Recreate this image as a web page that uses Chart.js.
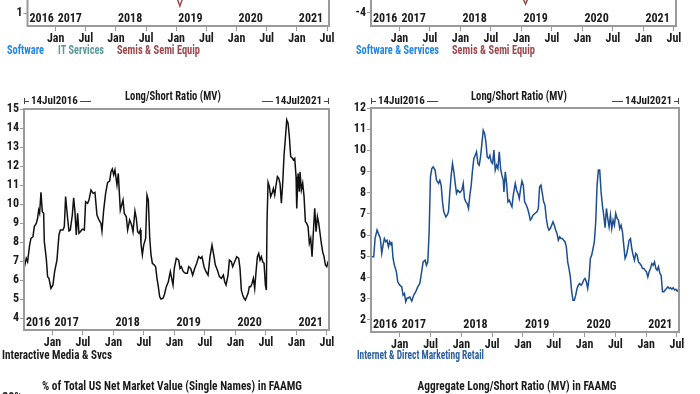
<!DOCTYPE html>
<html>
<head>
<meta charset="utf-8">
<script src="https://cdn.jsdelivr.net/npm/chart.js@4.4.1/dist/chart.umd.min.js"></script>
<style>
  html, body { margin: 0; padding: 0; background: #fff; }
  #page { position: relative; width: 700px; height: 394px; overflow: hidden; background: #fff; }
  #page canvas { position: absolute; }
</style>
</head>
<body>
<div id="page">
  <canvas id="topLeft"  width="350" height="215" style="left:0;top:-150px"></canvas>
  <canvas id="topRight" width="350" height="215" style="left:350px;top:-150px"></canvas>
  <canvas id="midLeft"  width="350" height="290" style="left:0;top:88px"></canvas>
  <canvas id="midRight" width="350" height="290" style="left:350px;top:88px"></canvas>
  <canvas id="botLeft"  width="350" height="150" style="left:0;top:380px"></canvas>
  <canvas id="botRight" width="350" height="150" style="left:350px;top:380px"></canvas>
</div>
<script>
// ---------- look ----------
const FONT  = "'Roboto Condensed', 'Liberation Sans Narrow', 'Arial Narrow', 'DejaVu Sans Condensed', sans-serif";
const INK   = '#1b1b1b';
const FRAME = '#9a9a9a';

// ---------- data (dates as decimal years) ----------
const rangeStart = 2016.533;   // 14Jul2016
const rangeEnd   = 2021.533;   // 14Jul2021
const yearLabels    = [2016, 2017, 2018, 2019, 2020, 2021];
const halfYearTicks = [2017, 2017.5, 2018, 2018.5, 2019, 2019.5, 2020, 2020.5, 2021, 2021.5];

// Interactive Media & Svcs - Long/Short Ratio (MV)
const imsDates = [
  2016.535, 2016.570, 2016.592, 2016.625, 2016.647, 2016.680, 2016.702, 2016.734, 2016.756, 2016.773,
  2016.789, 2016.811, 2016.833, 2016.855, 2016.866, 2016.898, 2016.920, 2016.942, 2016.975, 2017.008,
  2017.035, 2017.073, 2017.106, 2017.128, 2017.172, 2017.194, 2017.215, 2017.248, 2017.270, 2017.292,
  2017.325, 2017.347, 2017.368, 2017.390, 2017.412, 2017.434, 2017.456, 2017.489, 2017.522, 2017.543,
  2017.576, 2017.598, 2017.631, 2017.664, 2017.696, 2017.729, 2017.762, 2017.795, 2017.811, 2017.839,
  2017.871, 2017.904, 2017.937, 2017.959, 2017.981, 2018.003, 2018.024, 2018.057, 2018.079, 2018.095,
  2018.112, 2018.134, 2018.156, 2018.177, 2018.210, 2018.232, 2018.265, 2018.298, 2018.320, 2018.352,
  2018.374, 2018.396, 2018.418, 2018.440, 2018.451, 2018.473, 2018.495, 2018.527, 2018.549, 2018.571,
  2018.593, 2018.615, 2018.637, 2018.669, 2018.691, 2018.713, 2018.735, 2018.757, 2018.779, 2018.812,
  2018.833, 2018.866, 2018.899, 2018.932, 2018.954, 2018.976, 2018.997, 2019.030,
  2019.069, 2019.091, 2019.112, 2019.145, 2019.178, 2019.211, 2019.233, 2019.265, 2019.298, 2019.331,
  2019.364, 2019.397, 2019.429, 2019.451, 2019.484, 2019.517, 2019.550, 2019.582, 2019.615, 2019.648,
  2019.670, 2019.703, 2019.736, 2019.768, 2019.801, 2019.823, 2019.845, 2019.878, 2019.900, 2019.932,
  2019.954, 2019.987, 2020.020, 2020.053, 2020.074, 2020.096, 2020.118, 2020.140, 2020.162, 2020.184,
  2020.206, 2020.227, 2020.249, 2020.271, 2020.293, 2020.315, 2020.337, 2020.359, 2020.381, 2020.402,
  2020.424, 2020.446, 2020.468, 2020.490, 2020.506, 2020.517, 2020.534, 2020.556, 2020.577, 2020.599,
  2020.621, 2020.643, 2020.665, 2020.687, 2020.709, 2020.730, 2020.752, 2020.774, 2020.796, 2020.818,
  2020.840, 2020.862, 2020.883, 2020.905, 2020.927, 2020.949, 2020.971, 2020.993, 2021.004, 2021.026,
  2021.047, 2021.058, 2021.080, 2021.102, 2021.124, 2021.146, 2021.168, 2021.190, 2021.211, 2021.233,
  2021.255, 2021.277, 2021.299, 2021.321, 2021.343, 2021.365, 2021.386, 2021.408, 2021.430, 2021.452,
  2021.474, 2021.496, 2021.518, 2021.532
];
const imsRatio = [
  6.61, 7.14, 6.96, 7.84, 8.19, 8.28, 8.81, 8.98, 9.25, 9.68,
  9.51, 10.61, 9.60, 9.51, 8.02, 7.14, 6.18, 6.09, 5.56, 5.74,
  6.44, 7.05, 8.37, 8.63, 8.63, 8.81, 10.39, 9.25, 8.58, 8.63,
  9.42, 10.33, 9.60, 8.37, 9.51, 8.46, 8.54, 8.68, 8.63, 10.12,
  10.04, 10.21, 10.74, 10.56, 10.61, 9.42, 9.16, 8.98, 8.58, 9.68,
  10.56, 11.14, 11.21, 11.70, 11.84, 11.53, 11.79, 11.00, 11.61, 10.65,
  9.68, 9.95, 10.21, 9.51, 9.33, 8.63, 9.16, 8.89, 8.54, 9.63,
  9.25, 8.54, 8.46, 8.63, 7.91, 7.32, 7.84, 8.19, 10.47, 10.21,
  8.28, 7.32, 6.88, 6.79, 6.70, 6.09, 5.65, 5.12, 5.00, 5.04,
  5.21, 5.65, 5.91, 6.44, 6.09, 5.74, 6.61, 7.14,
  7.05, 6.61, 6.70, 6.44, 6.35, 6.35, 6.70, 6.61, 6.26, 6.61,
  6.88, 7.23, 7.14, 7.23, 6.70, 6.44, 6.26, 7.23, 7.84, 7.23,
  6.79, 6.53, 6.18, 6.09, 6.26, 5.91, 5.74, 6.26, 7.05, 6.96,
  6.70, 6.96, 7.23, 7.14, 6.61, 5.47, 5.21, 5.04, 4.95, 5.12,
  5.30, 5.65, 5.65, 5.82, 6.09, 5.56, 6.44, 7.23, 7.40, 7.05,
  7.23, 6.96, 6.88, 5.74, 5.47, 9.07, 11.14, 10.91, 10.39, 10.56,
  10.82, 10.47, 11.00, 11.44, 11.35, 11.09, 10.04, 11.09, 12.58, 13.46,
  14.42, 14.25, 13.54, 12.49, 12.44, 12.32, 12.40, 11.44, 9.77, 11.61,
  10.65, 11.70, 10.74, 11.09, 10.39, 9.07, 8.98, 8.81, 7.93, 8.19,
  7.23, 8.54, 9.77, 8.54, 9.33, 8.98, 8.46, 7.91, 7.47, 7.23,
  6.79, 6.70, 6.96, 7.05
];

// Internet & Direct Marketing Retail - Long/Short Ratio (MV)
const idmrDates = [
  2016.535, 2016.577, 2016.599, 2016.631, 2016.664, 2016.685, 2016.707, 2016.729, 2016.750, 2016.772,
  2016.794, 2016.816, 2016.837, 2016.859, 2016.870, 2016.891, 2016.913, 2016.946, 2016.967, 2017.000,
  2017.032, 2017.054, 2017.076, 2017.097, 2017.119, 2017.141, 2017.162, 2017.195, 2017.227, 2017.260,
  2017.292, 2017.325, 2017.347, 2017.379, 2017.412, 2017.433, 2017.455, 2017.477, 2017.498, 2017.520,
  2017.542, 2017.574, 2017.596, 2017.629, 2017.650, 2017.672, 2017.694, 2017.715, 2017.748, 2017.769,
  2017.791, 2017.813, 2017.835, 2017.856, 2017.878, 2017.900, 2017.921, 2017.943, 2017.976, 2018.008,
  2018.030, 2018.051, 2018.073, 2018.095, 2018.116, 2018.138, 2018.160, 2018.181, 2018.203, 2018.225,
  2018.246, 2018.268, 2018.290, 2018.311, 2018.333, 2018.355, 2018.377, 2018.398, 2018.420, 2018.442,
  2018.463, 2018.485, 2018.507, 2018.528, 2018.550, 2018.572, 2018.593, 2018.615, 2018.637, 2018.658,
  2018.680, 2018.691, 2018.713, 2018.734, 2018.756, 2018.778, 2018.799, 2018.821, 2018.843, 2018.875,
  2018.897, 2018.919, 2018.940, 2018.962, 2018.984, 2019.005, 2019.027,
  2019.054, 2019.075, 2019.097, 2019.119, 2019.140, 2019.162, 2019.195, 2019.227, 2019.249, 2019.270,
  2019.292, 2019.314, 2019.336, 2019.357, 2019.379, 2019.401, 2019.422, 2019.444, 2019.466, 2019.487,
  2019.509, 2019.531, 2019.552, 2019.574, 2019.596, 2019.617, 2019.639, 2019.661, 2019.682, 2019.704,
  2019.726, 2019.747, 2019.769, 2019.791, 2019.812, 2019.834, 2019.856, 2019.878, 2019.899, 2019.921,
  2019.943, 2019.964, 2019.986, 2020.008, 2020.029, 2020.051, 2020.073, 2020.094, 2020.116, 2020.138,
  2020.159, 2020.181, 2020.203, 2020.224, 2020.246, 2020.268, 2020.289, 2020.311, 2020.333, 2020.355,
  2020.376, 2020.398, 2020.420, 2020.441, 2020.463, 2020.485, 2020.506, 2020.528, 2020.550, 2020.571,
  2020.593, 2020.615, 2020.636, 2020.658, 2020.680, 2020.701, 2020.723, 2020.745, 2020.766, 2020.788,
  2020.810, 2020.831, 2020.853, 2020.875, 2020.897, 2020.918, 2020.940, 2020.962, 2020.983, 2021.005,
  2021.027, 2021.048, 2021.070, 2021.092, 2021.113, 2021.135, 2021.157, 2021.178, 2021.200, 2021.222,
  2021.243, 2021.265, 2021.287, 2021.309, 2021.330, 2021.352, 2021.374, 2021.395, 2021.417, 2021.439,
  2021.461, 2021.482, 2021.504, 2021.532
];
const idmrRatio = [
  4.98, 4.98, 5.84, 6.24, 6.00, 5.84, 5.14, 5.53, 5.84, 5.69,
  5.76, 5.45, 5.69, 5.53, 5.69, 4.90, 4.58, 4.27, 3.80, 3.64,
  3.56, 3.17, 3.25, 2.86, 3.04, 3.04, 3.09, 2.89, 3.17, 3.33,
  3.56, 3.72, 4.11, 4.74, 4.82, 4.58, 4.74, 6.16, 8.75, 9.14,
  9.22, 9.07, 8.59, 8.44, 8.59, 8.36, 7.57, 7.10, 6.86, 6.94,
  7.10, 8.04, 8.83, 9.38, 8.99, 8.44, 7.97, 8.12, 8.01, 8.12,
  8.44, 7.73, 7.57, 7.49, 7.26, 7.89, 8.36, 9.07, 9.62, 9.77,
  9.93, 9.38, 9.30, 9.69, 10.32, 10.95, 10.80, 10.40, 9.69, 9.62,
  9.77, 9.46, 9.38, 10.01, 9.07, 9.30, 9.14, 9.93, 9.14, 8.83,
  8.59, 8.04, 8.99, 8.44, 7.57, 7.65, 7.49, 7.34, 7.89, 8.44,
  8.12, 7.97, 7.73, 8.20, 8.55, 8.36, 7.57,
  7.42, 7.26, 7.02, 6.71, 6.79, 6.94, 7.02, 7.10, 7.26, 8.28,
  8.36, 7.97, 7.57, 7.42, 6.79, 6.39, 6.24, 6.31, 6.47, 6.63,
  6.47, 6.24, 6.08, 5.76, 5.92, 5.84, 5.84, 5.76, 5.69, 5.45,
  4.74, 4.43, 4.03, 3.33, 2.93, 2.93, 3.17, 3.48, 3.64, 3.72,
  3.64, 3.72, 3.88, 3.96, 3.80, 3.48, 3.96, 4.90, 5.06, 5.37,
  5.69, 6.63, 8.36, 9.07, 9.07, 8.04, 7.42, 6.94, 6.35, 7.26,
  6.79, 6.39, 6.94, 6.31, 6.71, 6.47, 7.02, 6.79, 6.71, 6.31,
  6.47, 6.16, 5.53, 4.90, 5.06, 5.37, 5.76, 5.84, 5.37, 5.06,
  4.82, 5.14, 5.06, 4.74, 4.66, 4.58, 4.43, 4.43, 4.35, 4.27,
  4.03, 4.27, 4.43, 4.66, 4.58, 4.74, 4.43, 4.35, 4.51, 4.19,
  4.11, 3.33, 3.33, 3.41, 3.48, 3.56, 3.48, 3.52, 3.45, 3.52,
  3.41, 3.45, 3.36, 3.45
];

// only the bottom tip of the Semis & Semi Equip lines shows in the top panels
const semisTipDates  = [2018.94, 2019.06, 2019.18];
const semisTipLeft   = [1.90, 1.23, 1.90];
const semisTipDatesR = [2018.98, 2019.066, 2019.15];
const semisTipRight  = [-2.60, -3.40, -2.60];

// ---------- helpers ----------
function pts(xs, ys) {
  return xs.map((x, i) => ({ x, y: ys[i] }));
}

function tickFont() {
  return { family: FONT, size: 12, weight: 'bold' };
}

function xAxis(height, show = true) {
  return {
    type: 'linear',
    display: show,
    min: rangeStart,
    max: rangeEnd,
    afterBuildTicks: s => { s.ticks = halfYearTicks.map(v => ({ value: v })); },
    afterFit: s => { s.height = height; },
    ticks: {
      autoSkip: false, maxRotation: 0, padding: 1, color: INK, font: tickFont(),
      callback: v => (Number.isInteger(v) ? 'Jan' : 'Jul'),
    },
    grid: { drawOnChartArea: false, tickLength: 5, color: FRAME, lineWidth: 1 },
    border: { display: false },
  };
}

function yAxis(width, min, max, step, fmt) {
  return {
    type: 'linear',
    min, max,
    afterFit: s => { s.width = width; },
    ticks: {
      stepSize: step, includeBounds: false, padding: 1, color: INK, font: tickFont(),
      callback: fmt || (v => v),
    },
    grid: { drawOnChartArea: false, tickLength: 4, color: FRAME, lineWidth: 1 },
    border: { display: false },
  };
}

function lineSet(data, color) {
  return { data, borderColor: color, borderWidth: 1.5, pointRadius: 0, tension: 0, fill: false };
}

// text squeezed (or stretched) to a given width, keeping its height
function fitText(ctx, text, x, y, width, align) {
  const w = ctx.measureText(text).width;
  const k = width ? width / w : 1;
  const left = align === 'center' ? x - (w * k) / 2 : x;
  ctx.save();
  ctx.translate(left, y);
  ctx.scale(k, 1);
  ctx.textAlign = 'left';
  ctx.fillText(text, 0, 0);
  ctx.restore();
}

// titles, frame, in-plot year labels, bracket dates and coloured legend text
const panelDeco = {
  id: 'panelDeco',
  afterDraw(chart, args, o) {
    const ctx = chart.ctx;
    const a = chart.chartArea;
    const xs = chart.scales.x;
    ctx.save();
    ctx.textBaseline = 'middle';

    if (o.frame) {
      ctx.strokeStyle = FRAME;
      ctx.lineWidth = 2;
      ctx.strokeRect(a.left, a.top, a.right - a.left, a.bottom - a.top);
    }

    if (o.years) {
      ctx.fillStyle = INK;
      ctx.font = `bold 12px ${FONT}`;
      ctx.textAlign = 'left';
      yearLabels.forEach(yr => {
        const px = Math.max(xs.getPixelForValue(yr), a.left);
        ctx.fillText(String(yr), px + 2, a.bottom - 7);
      });
    }

    if (o.title) {
      ctx.fillStyle = INK;
      ctx.font = `bold 12px ${FONT}`;
      fitText(ctx, o.title, o.titleX, o.titleY, o.titleW, 'center');
    }

    if (o.bracket) {
      const y = o.bracketY, L = a.left, R = a.right;
      ctx.font = `bold 11px ${FONT}`;
      ctx.fillStyle = INK;
      ctx.strokeStyle = '#444';
      ctx.lineWidth = 1;
      const wl = ctx.measureText(o.bracket[0]).width;
      const wr = ctx.measureText(o.bracket[1]).width;
      ctx.beginPath();
      ctx.moveTo(L + 0.5, y - 3); ctx.lineTo(L + 0.5, y + 3);
      ctx.moveTo(L, y + 0.5); ctx.lineTo(L + 5, y + 0.5);
      ctx.moveTo(L + wl + 9, y + 0.5); ctx.lineTo(L + wl + 20, y + 0.5);
      ctx.moveTo(R - 0.5, y - 3); ctx.lineTo(R - 0.5, y + 3);
      ctx.moveTo(R, y + 0.5); ctx.lineTo(R - 5, y + 0.5);
      ctx.moveTo(R - wr - 9, y + 0.5); ctx.lineTo(R - wr - 20, y + 0.5);
      ctx.stroke();
      ctx.textAlign = 'left';
      ctx.fillText(o.bracket[0], L + 7, y);
      ctx.textAlign = 'right';
      ctx.fillText(o.bracket[1], R - 7, y);
    }

    if (o.legend) {
      ctx.font = `bold 12px ${FONT}`;
      o.legend.forEach(item => {
        ctx.fillStyle = item.color;
        fitText(ctx, item.text, item.x, o.legendY, item.w, 'left');
      });
    }
    ctx.restore();
  },
};

function panel(id, cfg) {
  return new Chart(document.getElementById(id), {
    type: 'line',
    data: { datasets: cfg.datasets },
    options: {
      responsive: false,
      animation: false,
      devicePixelRatio: 1,
      events: [],
      layout: { padding: cfg.padding },
      scales: { x: cfg.x, y: cfg.y },
      plugins: {
        legend: { display: false },
        tooltip: { enabled: false },
        panelDeco: cfg.deco,
      },
    },
    plugins: [panelDeco],
  });
}

// ---------- panels ----------
const SEMIS = '#9b4a4e';

panel('topLeft', {
  datasets: [lineSet(pts(semisTipDates, semisTipLeft), SEMIS)],
  padding: { left: 0, top: 20, right: 21, bottom: 0 },
  x: xAxis(39),
  y: yAxis(27.5, 0.567, 5.767, 1),
  deco: {
    frame: true, years: true, legendY: 201,
    legend: [
      { text: 'Software', color: '#2188e0', x: 7, w: 37 },
      { text: 'IT Services', color: '#5b9a9b', x: 58, w: 46 },
      { text: 'Semis & Semi Equip', color: SEMIS, x: 117, w: 83 },
    ],
  },
});

panel('topRight', {
  datasets: [lineSet(pts(semisTipDatesR, semisTipRight), SEMIS)],
  padding: { left: 0, top: 20, right: 24, bottom: 0 },
  x: xAxis(39),
  y: yAxis(21, -4.867, 5.533, 2),
  deco: {
    frame: true, years: true, legendY: 201,
    legend: [
      { text: 'Software & Services', color: '#2188e0', x: 6, w: 83 },
      { text: 'Semis & Semi Equip', color: SEMIS, x: 102, w: 83 },
    ],
  },
});

panel('midLeft', {
  datasets: [lineSet(pts(imsDates, imsRatio), '#111111')],
  padding: { left: 0, top: 21, right: 21, bottom: 0 },
  x: xAxis(48),
  y: yAxis(24, 3.37, 15, 1),
  deco: {
    frame: true, years: true,
    title: 'Long/Short Ratio (MV)', titleX: 173, titleY: 9, titleW: 96,
    bracket: ['14Jul2016', '14Jul2021'], bracketY: 13,
    legendY: 268,
    legend: [{ text: 'Interactive Media & Svcs', color: INK, x: 2, w: 110 }],
  },
});

panel('midRight', {
  datasets: [lineSet(pts(idmrDates, idmrRatio), '#1c4f8f')],
  padding: { left: 0, top: 20, right: 21, bottom: 0 },
  x: xAxis(46),
  y: yAxis(21, 1.43, 12, 1),
  deco: {
    frame: true, years: true,
    title: 'Long/Short Ratio (MV)', titleX: 169, titleY: 9, titleW: 96,
    bracket: ['14Jul2016', '14Jul2021'], bracketY: 13,
    legendY: 268,
    legend: [{ text: 'Internet & Direct Marketing Retail', color: '#2c619f', x: 7, w: 127 }],
  },
});

panel('botLeft', {
  datasets: [],
  padding: { left: 0, top: 18, right: 21, bottom: 0 },
  x: xAxis(0, false),
  y: yAxis(27, 0, 30, 5, v => v + '%'),
  deco: {
    title: '% of Total US Net Market Value (Single Names) in FAAMG',
    titleX: 172, titleY: 7, titleW: 260,
  },
});

panel('botRight', {
  datasets: [],
  padding: { left: 0, top: 18, right: 21, bottom: 0 },
  x: xAxis(0, false),
  y: yAxis(28, 0, 45, 5),
  deco: {
    title: 'Aggregate Long/Short Ratio (MV) in FAAMG',
    titleX: 167, titleY: 7, titleW: 199,
  },
});
</script>
</body>
</html>
